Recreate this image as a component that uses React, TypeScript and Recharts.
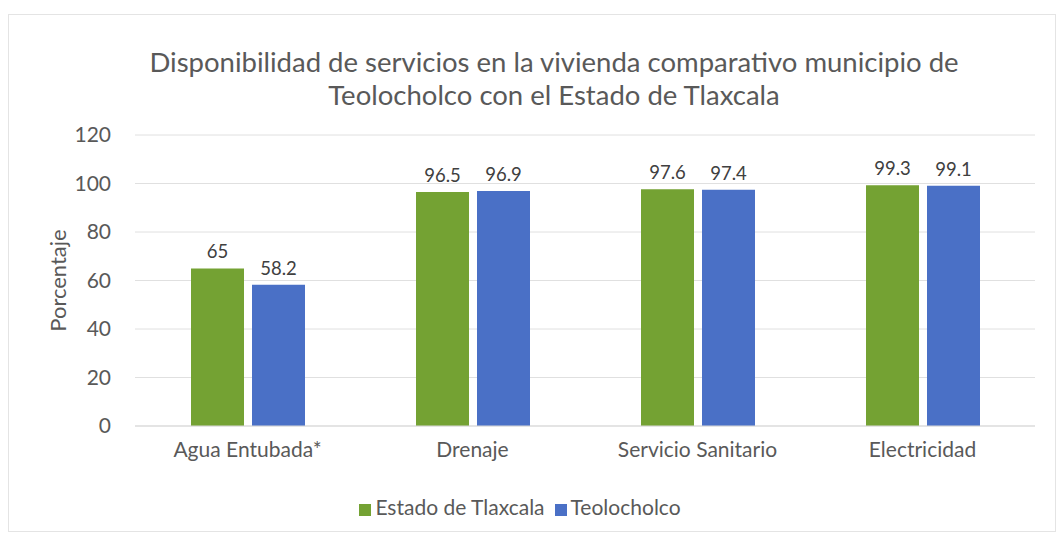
import React from 'react';
import { BarChart, Bar, XAxis, YAxis, CartesianGrid, Legend, LabelList } from 'recharts';

const categories = ['Agua Entubada*', 'Drenaje', 'Servicio Sanitario', 'Electricidad'];
const estadoValues = [65, 96.5, 97.6, 99.3];
const teoloValues = [58.2, 96.9, 97.4, 99.1];
const yTicks = [0, 20, 40, 60, 80, 100, 120];

const data = categories.map((c, i) => ({ name: c, estado: estadoValues[i], teolo: teoloValues[i] }));

const FONT = 'Lato, "Open Sans", sans-serif';
const TXT = '#595959';

export default function App() {
  return (
    <div style={{ position: 'absolute', left: 0, top: 0, width: 1064, height: 539, background: '#fff', fontFamily: FONT }}>
      <div style={{ position: 'absolute', left: 8, top: 14, width: 1046, height: 516, border: '1px solid #e4e4e4' }} />
      <div style={{ position: 'absolute', left: 0, top: 45, width: 1108, textAlign: 'center', fontSize: 27.5, lineHeight: '33px', color: TXT }}>
        Disponibilidad de servicios en la vivienda comparativo municipio de<br />Teolocholco con el Estado de Tlaxcala
      </div>
      <div style={{ position: 'absolute', left: 0, top: 0 }}>
        <BarChart width={1064} height={539} data={data} margin={{ top: 135, right: 29, left: 90, bottom: 73 }} barGap={8} barSize={53}>
          <CartesianGrid vertical={false} stroke="#e0e0e0" />
          <XAxis dataKey="name" axisLine={{ stroke: '#d9d9d9' }} tickLine={false} height={40}
            tick={{ fill: TXT, fontSize: 21, fontFamily: FONT }} tickMargin={10} />
          <YAxis domain={[0, 120]} ticks={yTicks} width={45} axisLine={false} tickLine={false}
            tick={{ fill: TXT, fontSize: 21, fontFamily: FONT }} tickMargin={18}
            label={{ value: 'Porcentaje', angle: -90, position: 'left', offset: 32, textAnchor: 'middle', fill: TXT, fontSize: 22, fontFamily: FONT }} />
          <Legend verticalAlign="middle" align="center" layout="horizontal" iconType="square" iconSize={12}
            wrapperStyle={{ top: 494, left: 0, width: 1050, fontSize: 21, fontFamily: FONT }}
            formatter={(v) => <span style={{ color: TXT }}>{v}</span>} />
          <Bar dataKey="estado" name="Estado de Tlaxcala" fill="#74A233" isAnimationActive={false}>
            <LabelList dataKey="estado" position="top" offset={10} fill="#404040" fontSize={18.5} fontFamily={FONT} />
          </Bar>
          <Bar dataKey="teolo" name="Teolocholco" fill="#4A70C6" isAnimationActive={false}>
            <LabelList dataKey="teolo" position="top" offset={10} fill="#404040" fontSize={18.5} fontFamily={FONT} />
          </Bar>
        </BarChart>
      </div>
    </div>
  );
}
